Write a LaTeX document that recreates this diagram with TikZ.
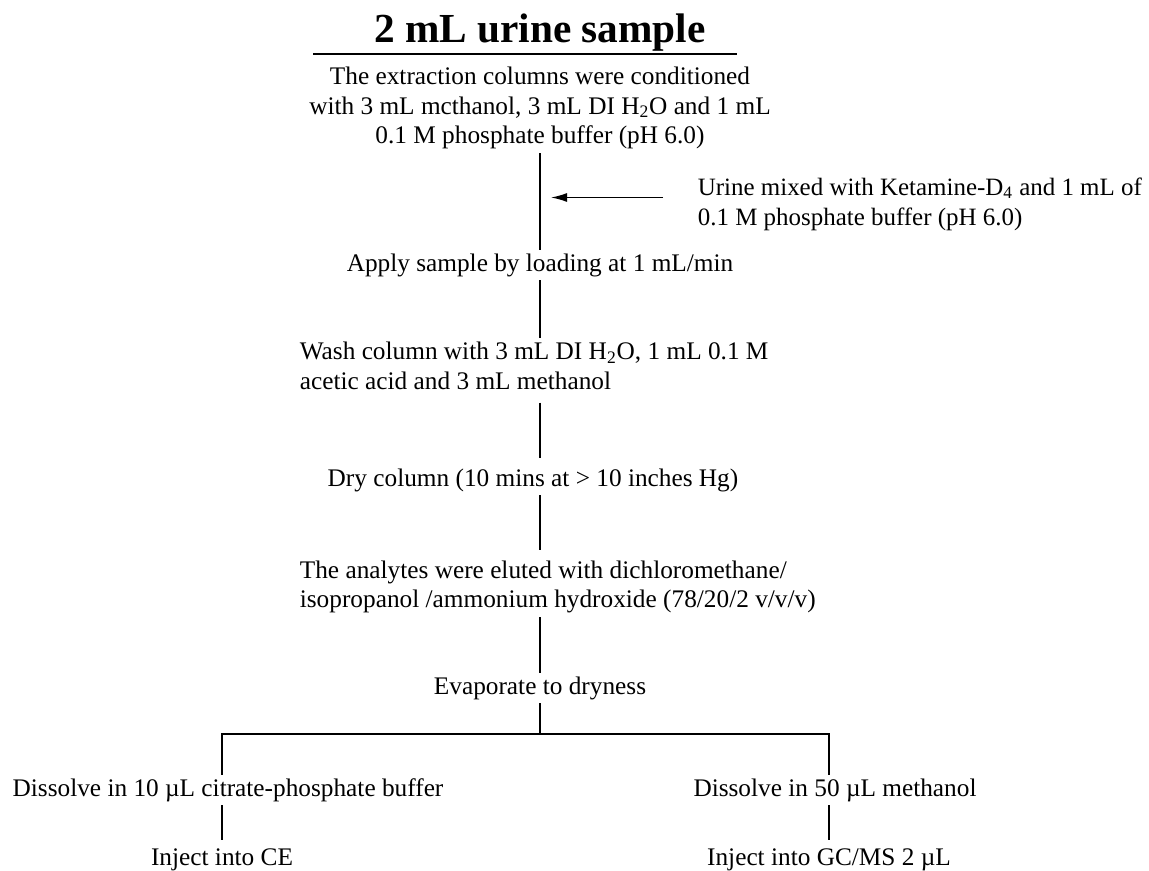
\documentclass[tikz,border=0pt]{standalone}
\usepackage{fontspec}
\setmainfont{Liberation Serif}
\usetikzlibrary{arrows.meta}
\tikzset{
  paso/.style={font=\fontsize{14.4}{17}\selectfont, inner sep=2pt, align=center},
  pasoizq/.style={paso, align=left, anchor=west},
  linea/.style={line width=0.9pt},
  flecha/.style={line width=0.8pt, -{Latex[length=3.2mm,width=1.8mm]}},
}
\begin{document}
\begin{tikzpicture}[x=0.02cm, y=-0.02cm]
    \useasboundingbox (0,0) rectangle (1149,871);

    % Titulo
    \node[font=\fontsize{23.5}{28}\selectfont\bfseries, inner sep=1pt] (muestra) at (540,33) {2 mL urine sample};
    \draw[line width=0.8pt] (muestra.south) ++(-227,0) -- ++(424,0);

    % Pasos
    \node[paso] (acond) at (540,108) {The extraction columns were conditioned\\with 3 mL mcthanol, 3 mL DI H\textsubscript{2}O and 1 mL\\0.1 M phosphate buffer (pH 6.0)};
    \node[pasoizq, font=\fontsize{14.2}{17}\selectfont] (orina) at (694,204) {Urine mixed with Ketamine-D\textsubscript{4} and 1 mL of\\0.1 M phosphate buffer (pH 6.0)};
    \node[paso] (carga) at (540,265) {Apply sample by loading at 1 mL/min};
    \node[pasoizq] (lavado) at (296,366) {Wash column with 3 mL DI H\textsubscript{2}O, 1 mL 0.1 M\\acetic acid and 3 mL methanol};
    \node[paso] (secado) at (533,480) {Dry column (10 mins at > 10 inches Hg)};
    \node[pasoizq] (elucion) at (296,587) {The analytes were eluted with dichloromethane/\\isopropanol /ammonium hydroxide (78/20/2 v/v/v)};
    \node[paso] (evap) at (540,688) {Evaporate to dryness};
    \coordinate (rama) at (540,734);

    % Ramas
    \node[paso] (disolA) at (228,790) {Dissolve in 10 µL citrate-phosphate buffer};
    \node[paso] (disolB) at (835,790) {Dissolve in 50 µL methanol};
    \node[paso] (inyA) at (222,860) {Inject into CE};
    \node[paso] (inyB) at (829,860) {Inject into GC/MS 2 µL};

    % Lineas
    \draw[linea] (acond) -- (carga);
    \draw[linea] (carga) -- (carga |- lavado.north);
    \draw[linea, shorten <=0.18cm, shorten >=0.14cm] (carga |- lavado.south) -- (carga |- secado.north);
    \draw[linea, shorten >=0.14cm] (carga |- secado.south) -- (carga |- elucion.north);
    \draw[linea] (carga |- elucion.south) -- (evap);
    \draw[linea] (evap) -- (rama);
    \draw[linea] (inyA |- disolA.north) |- (rama) -| (inyB |- disolB.north);
    \draw[linea, shorten >=0.1cm] (inyA |- disolA.south) -- (inyA);
    \draw[linea, shorten >=0.1cm] (inyB |- disolB.south) -- (inyB);

    % Flecha
    \draw[flecha, shorten <=0.62cm, shorten >=0.22cm] ([yshift=0.13cm]orina.west) -- ([yshift=0.13cm]orina.west -| carga);
\end{tikzpicture}
\end{document}
